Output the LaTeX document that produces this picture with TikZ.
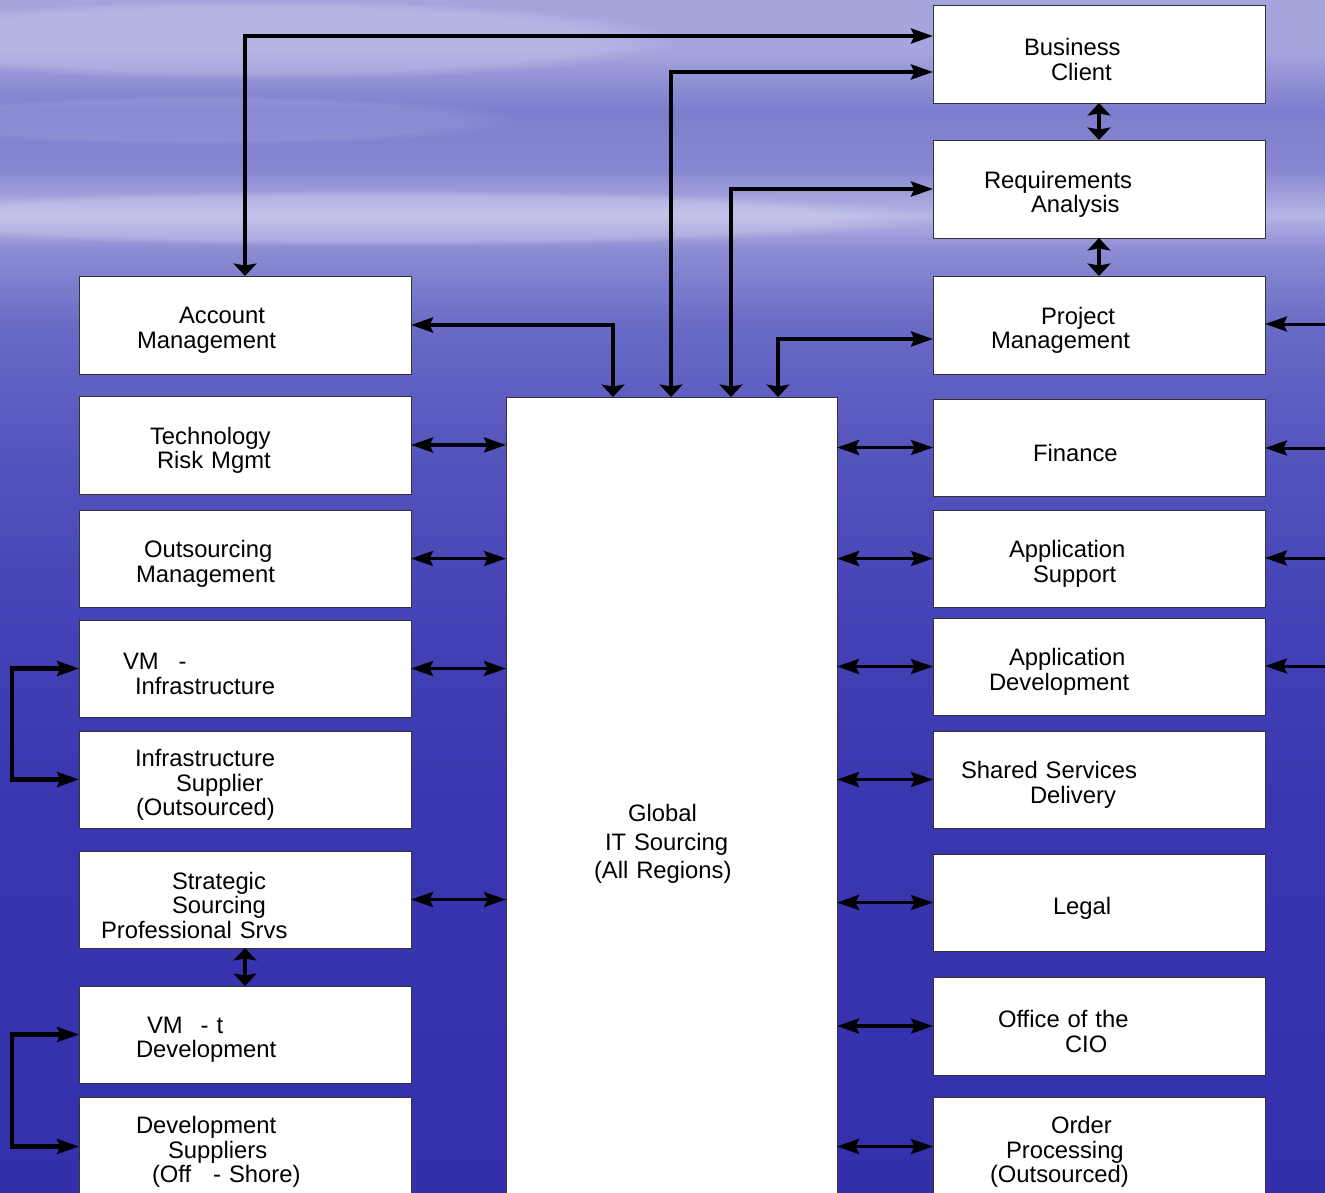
\documentclass[tikz,border=0pt]{standalone}
\usepackage{fontspec}
\setmainfont{Liberation Sans}
\usetikzlibrary{arrows.meta,fadings}
\definecolor{bgA}{RGB}{165,165,222}
\definecolor{bgB}{RGB}{165,165,222}
\definecolor{bgC}{RGB}{125,125,205}
\definecolor{bgD}{RGB}{135,135,210}
\definecolor{bgE}{RGB}{180,180,228}
\definecolor{bgF}{RGB}{140,140,212}
\definecolor{bgG}{RGB}{105,105,198}
\definecolor{bgH}{RGB}{85,85,190}
\definecolor{bgI}{RGB}{70,68,183}
\definecolor{bgJ}{RGB}{58,54,176}
\definecolor{bgK}{RGB}{52,48,172}
\pgfdeclareverticalshading{bgshade}{100bp}{color(0bp)=(bgK); color(25bp)=(bgK); color(41.44bp)=(bgJ); color(49.83bp)=(bgI); color(56.12bp)=(bgH); color(61.16bp)=(bgG); color(64.51bp)=(bgF); color(65.98bp)=(bgE); color(67.87bp)=(bgD); color(70.39bp)=(bgC); color(72.9bp)=(bgB); color(75bp)=(bgA); color(100bp)=(bgA)}
\tikzset{
  box/.style={draw=black!80, line width=1pt, fill=white, minimum width=332pt, minimum height=98pt, inner sep=0pt, outer sep=0pt},
  txt/.style={align=left, text width=332pt, inner sep=0pt, font=\fontsize{23.8}{24.5}\selectfont},
  conn/.style={line width=3.8pt, draw=black},
  hconn/.style={line width=3.3pt, draw=black},
  Ht/.tip={Stealth[length=22pt,width=15pt,inset=3.5pt]},
  Vt/.tip={Stealth[length=12.5pt,width=23pt,inset=2pt]},
}
\newcommand\boxtext[2]{\node[txt] (#1-t) at ([yshift=-5.5pt]#1.center) {#2};}
\begin{document}
\begin{tikzpicture}[x=1pt,y=-1pt]
\useasboundingbox (0,0) rectangle (1325,1192);
\clip (0,0) rectangle (1325,1192);
% background
\shade[shading=bgshade] (0,0) rectangle (1325,1192);
\fill[white, opacity=0.2, path fading=circle with fuzzy edge 20 percent] (380,218) ellipse [x radius=560pt, y radius=28pt];
\fill[white, opacity=0.18, path fading=circle with fuzzy edge 20 percent] (260,40) ellipse [x radius=420pt, y radius=40pt];
\fill[white, opacity=0.1, path fading=circle with fuzzy edge 20 percent] (200,120) ellipse [x radius=320pt, y radius=25pt];

% right column
\node[box] (bc) at (1099,54) {};
\node[box] (ra) at (1099,189) {};
\node[box] (pm) at (1099,325) {};
\node[box, minimum height=97pt] (fin) at (1099,447.5) {};
\node[box, minimum height=97pt] (as) at (1099,558.5) {};
\node[box, minimum height=97pt] (ad) at (1099,666.5) {};
\node[box, minimum height=97pt] (ssd) at (1099,779.5) {};
\node[box, minimum height=97pt] (leg) at (1099,902.5) {};
\node[box] (cio) at (1099,1026) {};
\node[box, minimum height=99pt] (op) at (1099,1146.5) {};
% left column
\node[box] (am) at (245,325) {};
\node[box] (trm) at (245,445) {};
\node[box, minimum height=97pt] (om) at (245,558.5) {};
\node[box, minimum height=97pt] (vmi) at (245,668.5) {};
\node[box, minimum height=97pt] (isup) at (245,779.5) {};
\node[box, minimum height=97pt] (ss) at (245,899.5) {};
\node[box, minimum height=97pt] (vmd) at (245,1034.5) {};
\node[box, minimum height=99pt] (dsup) at (245,1146.5) {};
% centre
\node[box, minimum width=331pt, minimum height=803pt] (gis) at (671.5,798.5) {};

% texts
\boxtext{bc}{\hspace*{91pt}Business\\\hspace*{118pt}Client}
\boxtext{ra}{\hspace*{51pt}Requirements\\\hspace*{98pt}Analysis}
\boxtext{pm}{\hspace*{108pt}Project\\\hspace*{58pt}Management}
\boxtext{fin}{\hspace*{100pt}Finance}
\boxtext{as}{\hspace*{76pt}Application\\\hspace*{100pt}Support}
\boxtext{ad}{\hspace*{76pt}Application\\\hspace*{56pt}Development}
\boxtext{ssd}{\hspace*{28pt}Shared Services\\\hspace*{97pt}Delivery}
\boxtext{leg}{\hspace*{120pt}Legal}
\boxtext{cio}{\hspace*{65pt}Office of the\\\hspace*{132pt}CIO}
\boxtext{op}{\hspace*{118pt}Order\\\hspace*{73pt}Processing\\\hspace*{57pt}(Outsourced)}
\boxtext{am}{\hspace*{100pt}Account\\\hspace*{58pt}Management}
\boxtext{trm}{\hspace*{71pt}Technology\\\hspace*{78pt}Risk Mgmt}
\boxtext{om}{\hspace*{65pt}Outsourcing\\\hspace*{57pt}Management}
\boxtext{vmi}{\hspace*{44pt}VM\hspace{20pt}-\\\hspace*{56pt}Infrastructure}
\boxtext{isup}{\hspace*{56pt}Infrastructure\\\hspace*{97pt}Supplier\\\hspace*{57pt}(Outsourced)}
\boxtext{ss}{\hspace*{93pt}Strategic\\\hspace*{93pt}Sourcing\\\hspace*{22pt}Professional Srvs}
\boxtext{vmd}{\hspace*{68pt}VM\hspace{18pt}- t\\\hspace*{57pt}Development}
\boxtext{dsup}{\hspace*{57pt}Development\\\hspace*{89pt}Suppliers\\\hspace*{73pt}(Off\hspace{22pt}- Shore)}
\node[txt, text width=331pt, font=\fontsize{23.8}{28.5}\selectfont] (gis-t) at (671.5,844) {\hspace*{122pt}Global\\\hspace*{99pt}IT Sourcing\\\hspace*{88pt}(All Regions)};

% elbow connectors
\draw[conn,{Vt}-{Ht}] (am.north) |- ([yshift=18pt]bc.west);
\draw[conn,{Vt}-{Ht}] ([xshift=-0.5pt]gis.north) |- ([yshift=-18pt]bc.west);
\draw[conn,{Vt}-{Ht}] ([xshift=59.5pt]gis.north) |- (ra.west);
\draw[conn,{Vt}-{Ht}] ([xshift=106.5pt]gis.north) |- ([yshift=-14pt]pm.west);
\draw[conn,{Ht}-{Vt}] (am.east) -| ([xshift=-58.5pt]gis.north);

% short vertical double arrows
\draw[hconn,{Vt}-{Vt}] (bc.south) -- (ra.north);
\draw[hconn,{Vt}-{Vt}] (ra.south) -- (pm.north);
\draw[hconn,{Vt}-{Vt}] (ss.south) -- (vmd.north);

% left horizontals
\draw[hconn,{Ht}-{Ht}] (trm.east) -- (trm.east -| gis.west);
\draw[hconn,{Ht}-{Ht}] (om.east) -- (om.east -| gis.west);
\draw[hconn,{Ht}-{Ht}] (vmi.east) -- (vmi.east -| gis.west);
\draw[hconn,{Ht}-{Ht}] (ss.east) -- (ss.east -| gis.west);
% right horizontals
\draw[hconn,{Ht}-{Ht}] (fin.west -| gis.east) -- (fin.west);
\draw[hconn,{Ht}-{Ht}] (as.west -| gis.east) -- (as.west);
\draw[hconn,{Ht}-{Ht}] (ad.west -| gis.east) -- (ad.west);
\draw[hconn,{Ht}-{Ht}] (ssd.west -| gis.east) -- (ssd.west);
\draw[hconn,{Ht}-{Ht}] (leg.west -| gis.east) -- (leg.west);
\draw[hconn,{Ht}-{Ht}] (cio.west -| gis.east) -- (cio.west);
\draw[hconn,{Ht}-{Ht}] (op.west -| gis.east) -- (op.west);

% brackets on the left
\draw[conn,line width=4.2pt,{Ht}-{Ht}] (vmi.west) -- ++(-67pt,0pt) |- (isup.west);
\draw[conn,line width=4.2pt,{Ht}-{Ht}] (vmd.west) -- ++(-67pt,0pt) |- (dsup.west);

% incoming from the right edge
\coordinate (rin1) at (1335,324);
\coordinate (rin2) at (1335,448);
\coordinate (rin3) at (1335,558);
\coordinate (rin4) at (1335,666);
\draw[hconn,line width=3pt,-{Ht}] (rin1) -- (rin1 -| pm.east);
\draw[hconn,line width=3pt,-{Ht}] (rin2) -- (rin2 -| fin.east);
\draw[hconn,line width=3pt,-{Ht}] (rin3) -- (rin3 -| as.east);
\draw[hconn,line width=3pt,-{Ht}] (rin4) -- (rin4 -| ad.east);
\end{tikzpicture}
\end{document}
